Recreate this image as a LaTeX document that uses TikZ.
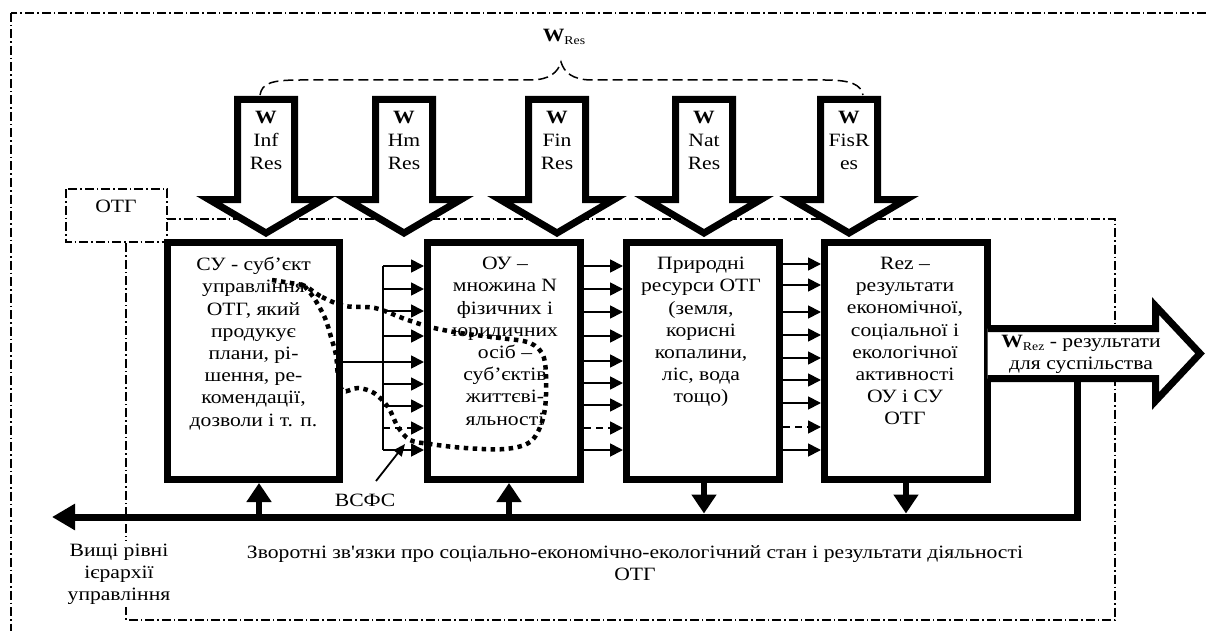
\documentclass[tikz,border=0pt]{standalone}
\usepackage{fontspec}
\setmainfont{Liberation Serif}[Ligatures=TeXOff, FakeStretch=1.15]
\usetikzlibrary{arrows.meta}
\tikzset{
  frame/.style={line width=1.3pt, dash pattern=on 9pt off 3pt on 1.5pt off 3pt},
  bigbox/.style={draw, line width=7pt, minimum width=172pt, minimum height=237pt, inner sep=0pt},
  conn/.style={line width=1.8pt, -{Triangle[length=13pt,width=13pt]}},
  dconn/.style={conn, dash pattern=on 7pt off 5pt},
  txt/.style={font=\fontsize{18.8}{22.2}\selectfont, align=center, inner sep=0pt},
  atxt/.style={font=\fontsize{18.8}{23}\selectfont, align=center, inner sep=0pt},
  blockarrow/.style={line width=7pt, fill=white, line join=miter, draw},
  dotcurve/.style={line width=4.5pt, dash pattern=on 4.5pt off 4.5pt},
  thickline/.style={line width=7pt},
  fbarrow/.style={line width=6pt, -{Triangle[length=19pt,width=24pt]}},
  brace/.style={line width=1.5pt, dash pattern=on 10pt off 5pt},
}
\newcommand\dnarrow[4]{%
  \draw[blockarrow] (#1-28.5,99.5) -- (#1+28.5,99.5) -- (#1+28.5,199.5) -- (#1+57,199.5) -- (#1,233) -- (#1-57,199.5) -- (#1-28.5,199.5) -- cycle;
  \node[atxt, anchor=north] (#2) at (#1,111) {\textbf{W}\\#3\\#4};
}
\begin{document}
\begin{tikzpicture}[x=1pt,y=-1pt]
\useasboundingbox (0,0) rectangle (1206,631);
\clip (0,0) rectangle (1206,631);
% frames
\draw[frame] (11,13) rectangle (1240,660);
\draw[frame] (66,189) rectangle (167,242);
\node[txt] (otg) at (116,206) {ОТГ};
\draw[frame] (167,219) -- (1115,219) -- (1115,620) -- (126,620) -- (126,242);
% brace
\draw[brace] (260,95) .. controls (262,83) and (272,80) .. (300,80) -- (530,80) .. controls (550,80) and (558,72) .. (561,62) .. controls (564,72) and (572,80) .. (592,80) -- (825,80) .. controls (852,80) and (861,85) .. (863,95);
\node[txt] (wres) at (564,37) {\textbf{W}\raisebox{-3pt}{\fontsize{12}{12}\selectfont Res}};
% boxes
\node[bigbox] (b1) at (253.5,361) {};
\node[bigbox, minimum width=153pt] (b2) at (504,361) {};
\node[bigbox, minimum width=153pt] (b3) at (703,361) {};
\node[bigbox, minimum width=163pt] (b4) at (906,361) {};
% block arrows
\dnarrow{266}{wi}{Inf}{Res}
\dnarrow{404}{wh}{Hm}{Res}
\dnarrow{557}{wf}{Fin}{Res}
\dnarrow{704}{wn}{Nat}{Res}
\dnarrow{849}{wp}{FisR}{es}
% box texts
\node[txt, anchor=north] (t1) at (253.5,257) {СУ - суб’єкт\\управління\\ОТГ, який\\продукує\\плани, рі-\\шення, ре-\\комендації,\\дозволи і т. п.};
\node[txt, anchor=north] (t2) at (505,257) {ОУ –\\множина N\\фізичних і\\юридичних\\осіб –\\суб’єктів\\життєві-\\яльності};
\node[txt, anchor=north] (t3) at (701,257) {Природні\\ресурси ОТГ\\(земля,\\корисні\\копалини,\\ліс, вода\\тощо)};
\node[txt, anchor=north] (t4) at (905,257) {Rez –\\результати\\економічної,\\соціальної і\\екологічної\\активності\\ОУ і СУ\\ОТГ};
% connectors b1 -> b2
\coordinate (bus) at (383,266);
\coordinate (busend) at (383,450);
\draw[line width=1.8pt] (bus) -- (busend);
\foreach \y in {266,289,311,336,384,406,450}
  \draw[conn] (bus |- 0,\y) -- (b2.west |- 0,\y);
\draw[dconn] (bus |- 0,428) -- (b2.west |- 0,428);
\draw[conn] (b1.east |- 0,362) -- (b2.west |- 0,362);
% b2 -> b3
\foreach \y in {266,289,312,336,361,383,405,450}
  \draw[conn] (b2.east |- 0,\y) -- (b3.west |- 0,\y);
\draw[dconn] (b2.east |- 0,428) -- (b3.west |- 0,428);
% b3 -> b4
\foreach \y in {264,285,312,335,358,380,403,450}
  \draw[conn] (b3.east |- 0,\y) -- (b4.west |- 0,\y);
\draw[dconn] (b3.east |- 0,427) -- (b4.west |- 0,427);
% dotted curve
\draw[dotcurve] (272,280) -- (303,285);
\draw[dotcurve] plot[smooth cycle, tension=0.55] coordinates {(305,286) (322,297) (345,306) (375,308) (405,319) (430,327) (460,333) (500,338) (530,343) (544,358) (546,395) (542,422) (530,442) (505,449) (465,448) (430,444) (410,440) (398,427) (388,407) (374,393) (358,388) (343,391) (338,375) (336,355) (331,337) (325,318) (314,298)};
% feedback
\coordinate (fbr) at (1077,378.5);
\coordinate (fbc) at (1077,517);
\coordinate (fbl) at (52,517);
\draw[thickline, line join=miter, -{Triangle[length=23pt,width=25pt]}] (fbr) -- (fbc) -- (fbl);
\draw[fbarrow] (259,517) -- (b1.south -| 259,0);
\draw[fbarrow] (509,517) -- (b2.south -| 509,0);
\draw[fbarrow] (b3.south -| 704,0) -- (704,513.5);
\draw[fbarrow] (b4.south -| 906,0) -- (906,513.5);
% output arrow
\draw[blockarrow] (987.5,328.5) -- (1155.5,328.5) -- (1155.5,306) -- (1200,353.5) -- (1155.5,401) -- (1155.5,378.5) -- (987.5,378.5);
\node[txt] (wrez) at (1081,354) {\textbf{W}\raisebox{-3pt}{\fontsize{12}{12}\selectfont Rez} - результати\\для суспільства};
% VSFS
\node[txt] (vsfs) at (365,500) {ВСФС};
\coordinate (vsfstip) at (405,444);
\draw[line width=1.8pt, -{Triangle[length=12pt,width=10pt]}] (376,481) -- (vsfstip);
% bottom texts
\node[txt, fill=white, inner sep=3pt] (vyshchi) at (119,574) {Вищі рівні\\ієрархії\\управління};
\node[txt] (zv) at (635,563) {Зворотні зв'язки про соціально-економічно-екологічний стан і результати діяльності\\ОТГ};
\end{tikzpicture}
\end{document}
